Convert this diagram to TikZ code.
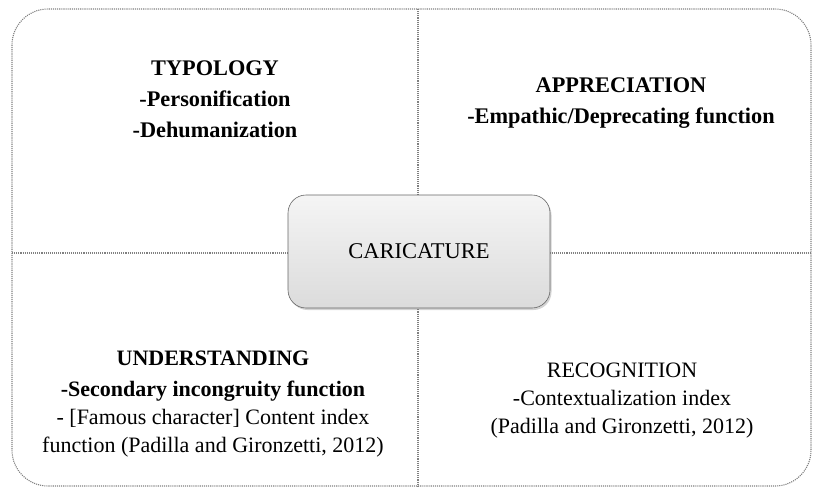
\documentclass[tikz,border=0pt]{standalone}
\usepackage{fontspec}
\setmainfont{Liberation Serif}
\usepackage{tikz}
\usetikzlibrary{positioning,shadows}
\tikzset{
    frame/.style={draw=gray, densely dotted, line width=1.1pt},
    divider/.style={draw=gray, densely dotted, line width=1.1pt},
    quadtext/.style={align=center, inner sep=0pt, font=\fontsize{22}{28}\selectfont},
    quadbold/.style={quadtext, font=\fontsize{22.3}{31}\selectfont\bfseries},
    centerbox/.style={rectangle, rounded corners=18pt, draw=gray!80!black, line width=0.6pt,
        top color=gray!8, bottom color=gray!28, minimum width=262pt, minimum height=113pt,
        font=\fontsize{22.5}{25}\selectfont,
        drop shadow={opacity=0.35, shadow xshift=1.5pt, shadow yshift=-2pt}},
}
\begin{document}
\begin{tikzpicture}[x=1pt, y=-1pt]
    \useasboundingbox (0,0) rectangle (815,490);
    \draw[frame, rounded corners=36pt] (12,9) rectangle (811,486);
    \draw[divider] (418,9) -- (418,486);
    \draw[divider] (12,253) -- (811,253);

    \node[centerbox] (cari) at (419,251.5) {CARICATURE};

    % anchor=base sits on the last line
    \node[quadbold, anchor=base] (typo) at (215,137) {TYPOLOGY\\-Personification\\-Dehumanization};
    \node[quadbold, anchor=base] (appr) at (621,123) {APPRECIATION\\-Empathic/Deprecating function};
    \node[quadtext, anchor=base] (unde) at (213,452) {\textbf{UNDERSTANDING}\\[3pt]\textbf{-Secondary incongruity function}\\- [Famous character] Content index\\function (Padilla and Gironzetti, 2012)};
    \node[quadtext, anchor=base] (reco) at (622,433) {RECOGNITION\\-Contextualization index\\(Padilla and Gironzetti, 2012)};
\end{tikzpicture}
\end{document}
